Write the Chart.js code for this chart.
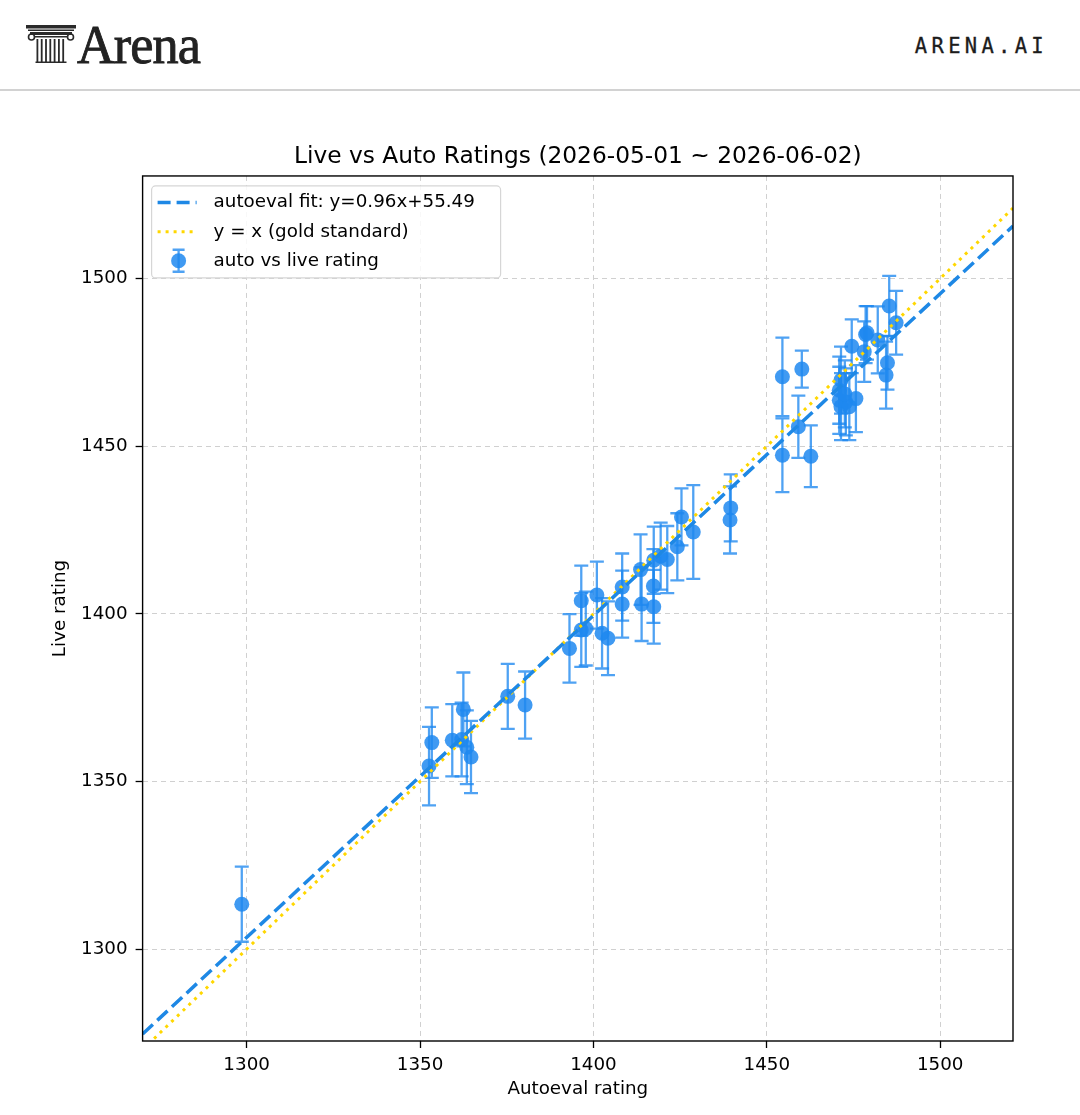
<!DOCTYPE html>
<html>
<head>
<meta charset="utf-8">
<script src="https://cdn.jsdelivr.net/npm/chart.js@4.4.1/dist/chart.umd.min.js"></script>
<style>
  html, body { margin: 0; padding: 0; background: #fff; }
  body { width: 1080px; height: 1115px; position: relative; overflow: hidden; }
  #logoIcon { position: absolute; left: 26px; top: 24px; }
  #logoText { position: absolute; left: 77px; top: 17px; font: 55px/1 "Liberation Serif", serif; color: #222;
    letter-spacing: -1px; -webkit-text-stroke: 0.9px #222; transform: scaleX(0.95); transform-origin: left top; }
  #site { position: absolute; right: 32px; top: 36px; font: 20.5px/1 "DejaVu Sans Mono", monospace; color: #1c1c1c;
    letter-spacing: 4.3px; -webkit-text-stroke: 0.3px #1c1c1c; }
  #sep { position: absolute; left: 0; top: 89px; width: 1080px; height: 1.5px; background: #d2d2d2; }
  #wrap { position: absolute; left: 0; top: 100px; width: 1080px; height: 1015px; }
</style>
</head>
<body>
<svg id="logoIcon" width="52" height="42" viewBox="0 0 52 42" fill="#2a2a2a">
  <rect x="0" y="1" width="50" height="3.5"/>
  <rect x="2" y="5.5" width="46" height="1.5"/>
  <rect x="4" y="8" width="42" height="3"/>
  <circle cx="5.5" cy="13" r="3" fill="none" stroke="#2a2a2a" stroke-width="1.6"/>
  <circle cx="44.5" cy="13" r="3" fill="none" stroke="#2a2a2a" stroke-width="1.6"/>
  <rect x="9" y="12" width="32" height="1.5"/>
  <rect x="10.5" y="15" width="1.8" height="23"/>
  <rect x="14.8" y="15" width="1.8" height="23"/>
  <rect x="19.1" y="15" width="1.8" height="23"/>
  <rect x="23.4" y="15" width="1.8" height="23"/>
  <rect x="27.7" y="15" width="1.8" height="23"/>
  <rect x="32" y="15" width="1.8" height="23"/>
  <rect x="36.3" y="15" width="1.8" height="23"/>
  <rect x="9.5" y="37.5" width="31" height="1.5"/>
</svg>
<div id="logoText">Arena</div>
<div id="site">ARENA.AI</div>
<div id="sep"></div>
<div id="wrap"><canvas id="chart" width="1080" height="1015"></canvas></div>
<script>
// auto (x) vs live (y) ratings with +/- error
const autoRatings = [
  1298.6, 1352.6, 1353.4, 1359.3, 1362.5, 1362.0, 1363.5, 1364.7, 1375.3, 1380.3,
  1393.1, 1396.5, 1396.5, 1397.8, 1401.0, 1402.5, 1404.2, 1408.3, 1408.3, 1413.6,
  1413.9, 1417.3, 1417.4, 1417.4, 1419.4, 1421.3, 1424.2, 1425.4, 1428.8, 1439.4,
  1439.6, 1454.5, 1454.5, 1460.1, 1459.1, 1462.7, 1471.4, 1470.9, 1470.9, 1472.8,
  1475.7, 1471.4, 1473.8, 1472.5, 1474.5, 1478.1, 1478.9, 1482.0, 1485.3, 1487.3,
  1484.8, 1484.4, 1478.5
];
const liveRatings = [
  1313.4, 1354.6, 1361.6, 1362.3, 1371.5, 1362.5, 1360.2, 1357.3, 1375.4, 1372.8,
  1389.7, 1403.9, 1395.2, 1395.6, 1405.6, 1394.2, 1392.7, 1408.0, 1402.9, 1413.2,
  1402.9, 1408.3, 1402.1, 1416.0, 1417.2, 1416.2, 1420.0, 1428.9, 1424.4, 1428.0,
  1431.6, 1470.7, 1447.3, 1473.0, 1455.8, 1447.0, 1469.7, 1466.7, 1463.7, 1463.2,
  1464.2, 1461.8, 1461.8, 1465.6, 1479.8, 1478.2, 1483.8, 1481.7, 1491.8, 1486.8,
  1474.9, 1471.2, 1483.3
];
const liveErrors = [
  11.2, 11.7, 10.5, 10.8, 11.0, 11.0, 11.0, 10.8, 9.7, 10.0,
  10.2, 10.5, 11.0, 11.0, 10.0, 10.5, 11.0, 10.0, 10.0, 10.5,
  11.0, 11.0, 11.0, 10.0, 10.0, 10.0, 10.0, 8.5, 14.0, 10.0,
  10.0, 11.7, 11.0, 5.5, 9.3, 9.2, 10.0, 10.0, 10.0, 10.0,
  10.0, 10.0, 10.0, 10.0, 8.0, 9.0, 8.0, 10.0, 9.0, 9.5,
  8.0, 10.0, 8.5
];
const xTicks = [1300, 1350, 1400, 1450, 1500];
const yTicks = [1300, 1350, 1400, 1450, 1500];
const xRange = [1270, 1521];
const yRange = [1272.6, 1530.6];
const fitSlope = 0.96;
const fitIntercept = 55.49;

const pointColor = 'rgba(30, 136, 240, 0.85)';
const barColor = 'rgba(30, 136, 240, 0.78)';
const fitColor = '#1e88e5';
const goldColor = '#ffd700';

Chart.defaults.font.family = '"DejaVu Sans", sans-serif';
Chart.defaults.color = '#000';

const errorBars = {
  id: 'errorBars',
  beforeDatasetsDraw(chart) {
    const { ctx, chartArea, scales: { x, y } } = chart;
    ctx.save();
    ctx.beginPath();
    ctx.rect(chartArea.left, chartArea.top, chartArea.width, chartArea.height);
    ctx.clip();
    ctx.strokeStyle = barColor;
    ctx.lineWidth = 2.3;
    autoRatings.forEach((a, i) => {
      const px = x.getPixelForValue(a);
      const top = y.getPixelForValue(liveRatings[i] + liveErrors[i]);
      const bot = y.getPixelForValue(liveRatings[i] - liveErrors[i]);
      ctx.beginPath();
      ctx.moveTo(px, top); ctx.lineTo(px, bot);
      ctx.moveTo(px - 7, top); ctx.lineTo(px + 7, top);
      ctx.moveTo(px - 7, bot); ctx.lineTo(px + 7, bot);
      ctx.stroke();
    });
    ctx.restore();
  }
};

const frame = {
  id: 'frame',
  afterDatasetsDraw(chart) {
    const { ctx, chartArea: a } = chart;
    ctx.save();
    ctx.strokeStyle = '#000';
    ctx.lineWidth = 1.4;
    ctx.strokeRect(a.left, a.top, a.width, a.height);
    ctx.restore();
  }
};

const legendBox = {
  id: 'legendBox',
  afterDraw(chart) {
    const { ctx, chartArea } = chart;
    const ds = chart.data.datasets;
    const left = chartArea.left + 9, top = chartArea.top + 10;
    ctx.save();
    ctx.fillStyle = 'rgba(255,255,255,0.85)';
    ctx.strokeStyle = '#d6d6d6';
    ctx.lineWidth = 1.2;
    ctx.beginPath();
    ctx.roundRect(left, top, 349, 92, 4);
    ctx.fill();
    ctx.stroke();

    const rows = [top + 16.5, top + 45.8, top + 74.8];
    // fit line sample
    ctx.lineWidth = 3.5;
    ctx.strokeStyle = fitColor;
    ctx.setLineDash([13, 6]);
    ctx.beginPath(); ctx.moveTo(left + 6, rows[0]); ctx.lineTo(left + 45, rows[0]); ctx.stroke();
    // y = x sample
    ctx.strokeStyle = goldColor;
    ctx.lineWidth = 3;
    ctx.setLineDash([3, 5]);
    ctx.beginPath(); ctx.moveTo(left + 6, rows[1]); ctx.lineTo(left + 45, rows[1]); ctx.stroke();
    ctx.setLineDash([]);
    // errorbar marker sample
    const cx = left + 27;
    ctx.strokeStyle = barColor;
    ctx.lineWidth = 2.3;
    ctx.beginPath();
    ctx.moveTo(cx, rows[2] - 11); ctx.lineTo(cx, rows[2] + 11);
    ctx.moveTo(cx - 6, rows[2] - 11); ctx.lineTo(cx + 6, rows[2] - 11);
    ctx.moveTo(cx - 6, rows[2] + 11); ctx.lineTo(cx + 6, rows[2] + 11);
    ctx.stroke();
    ctx.fillStyle = pointColor;
    ctx.beginPath(); ctx.arc(cx, rows[2], 7.5, 0, Math.PI * 2); ctx.fill();

    ctx.fillStyle = '#000';
    ctx.font = '18.3px "DejaVu Sans"';
    ctx.textBaseline = 'middle';
    ctx.fillText(ds[1].label, left + 62, rows[0]);
    ctx.fillText(ds[2].label, left + 62, rows[1]);
    ctx.fillText(ds[0].label, left + 62, rows[2]);
    ctx.restore();
  }
};

const scatterPoints = autoRatings.map((a, i) => ({ x: a, y: liveRatings[i] }));
const fitLine = xRange.map(v => ({ x: v, y: fitSlope * v + fitIntercept }));
const goldLine = xRange.map(v => ({ x: v, y: v }));

new Chart(document.getElementById('chart'), {
  type: 'scatter',
  data: {
    datasets: [
      {
        label: 'auto vs live rating',
        data: scatterPoints,
        pointRadius: 7.5,
        pointHoverRadius: 7.5,
        pointBackgroundColor: pointColor,
        pointBorderWidth: 0,
        order: 3
      },
      {
        label: 'autoeval fit: y=' + fitSlope.toFixed(2) + 'x+' + fitIntercept.toFixed(2),
        data: fitLine,
        showLine: true,
        borderColor: fitColor,
        borderWidth: 3.5,
        borderDash: [14, 6],
        pointRadius: 0,
        order: 1
      },
      {
        label: 'y = x (gold standard)',
        data: goldLine,
        showLine: true,
        borderColor: goldColor,
        borderWidth: 3,
        borderDash: [3, 5],
        pointRadius: 0,
        order: 2
      }
    ]
  },
  options: {
    responsive: false,
    animation: false,
    layout: { padding: { left: 0, right: 67, top: 0, bottom: 0 } },
    plugins: {
      legend: { display: false },
      tooltip: { enabled: false },
      title: {
        display: true,
        fullSize: false,
        text: 'Live vs Auto Ratings (2026-05-01 ~ 2026-06-02)',
        color: '#000',
        font: { size: 23.3, weight: 'normal', lineHeight: 1.2 },
        padding: { top: 43, bottom: 5 }
      }
    },
    scales: {
      x: {
        type: 'linear',
        min: xRange[0],
        max: xRange[1],
        afterBuildTicks: s => { s.ticks = xTicks.map(v => ({ value: v })); },
        afterFit: s => { s.height = 74; },
        ticks: { font: { size: 18.3 }, padding: 6, maxRotation: 0, callback: v => String(v) },
        grid: { color: '#d0d0d0', lineWidth: 1, tickColor: '#000', tickLength: 7, tickWidth: 1.3 },
        border: { display: false, dash: [5, 4] },
        title: { display: true, text: 'Autoeval rating', font: { size: 18.3 }, padding: { top: 0, bottom: 15 } }
      },
      y: {
        type: 'linear',
        min: yRange[0],
        max: yRange[1],
        afterBuildTicks: s => { s.ticks = yTicks.map(v => ({ value: v })); },
        afterFit: s => { s.width = 142.6; },
        ticks: { font: { size: 18.3 }, padding: 8, callback: v => String(v) },
        grid: { color: '#d0d0d0', lineWidth: 1, tickColor: '#000', tickLength: 7, tickWidth: 1.3 },
        border: { display: false, dash: [5, 4] },
        title: { display: true, text: 'Live rating', font: { size: 18.3 }, padding: { top: 49, bottom: 0 } }
      }
    }
  },
  plugins: [errorBars, frame, legendBox]
});
</script>
</body>
</html>
